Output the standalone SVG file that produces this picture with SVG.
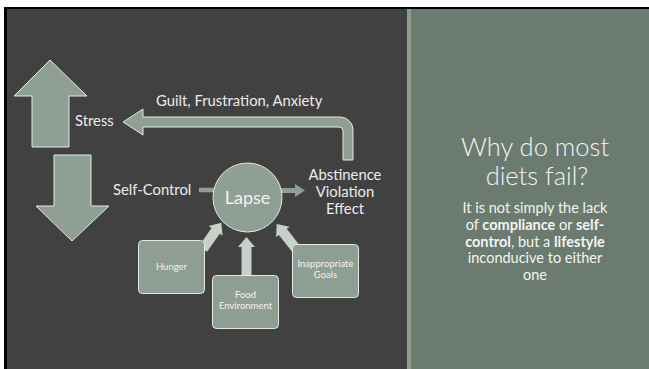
<svg xmlns="http://www.w3.org/2000/svg" width="649" height="369" viewBox="0 0 649 369">
<style>
.lbl{font-family:Lato,"Liberation Sans",sans-serif;fill:#ececec;font-size:14.8px}
.box{fill:#8e9e93;stroke:#e3e8e4;stroke-width:1}
.btxt{font-family:Lato,"Liberation Sans",sans-serif;fill:#f2f2f2;font-size:9.5px;text-anchor:middle}
.big{fill:#8f9f94;stroke:#e3e8e4;stroke-width:1}
.lt{fill:#c8d0ca}
.title{font-family:Lato,"Liberation Sans",sans-serif;font-weight:300;fill:#f4f4f4;font-size:25.5px;text-anchor:middle}
.body{font-family:Lato,"Liberation Sans",sans-serif;fill:#f4f4f4;font-size:14.5px;text-anchor:middle}
</style>
<rect x="0" y="0" width="649" height="369" fill="#ffffff"/>
<rect x="4" y="7" width="645" height="362" fill="#000000"/>
<rect x="7" y="9" width="400" height="360" fill="#414141"/>
<rect x="407" y="9" width="4" height="360" fill="#8d9e91"/>
<rect x="411" y="9" width="238" height="360" fill="#6b7b70"/>

<g id="connectors">
  <path id="guilt-arrow" class="big" d="M123,122 L143,109 L143,117 L340,117 A13,13 0 0 1 353,130 L353,160 L343,160 L343,131 A4,4 0 0 0 339,127 L143,127 L143,135 Z"/>
  <line x1="199" y1="190" x2="214" y2="190" stroke="#8f9f94" stroke-width="4.5"/>
  <polygon fill="#8f9f94" points="281,188 295,188 295,184 305,190.5 295,197 295,193 281,193"/>
  <polygon class="lt" transform="translate(203,249) rotate(-55)" points="0,-5 22,-5 22,-8.5 32,0 22,8.5 22,5 0,5"/>
  <polygon class="lt" transform="translate(246.5,277) rotate(-90)" points="0,-5 30,-5 30,-8.5 40,0 30,8.5 30,5 0,5"/>
  <polygon class="lt" transform="translate(297,250) rotate(-128)" points="0,-5 23,-5 23,-8.5 33,0 23,8.5 23,5 0,5"/>
</g>

<g id="stress-up">
  <polygon class="big" points="50,60 87,96 69,96 69,147 32,147 32,96 14,96"/>
</g>
<g id="stress-down">
  <polygon class="big" points="54,155 91,155 91,206 109,206 72,241 36,206 54,206"/>
</g>
<g id="stress-label">
  <text class="lbl" x="75" y="126">Stress</text>
</g>
<g id="guilt-label">
  <text class="lbl" x="156" y="106">Guilt, Frustration, Anxiety</text>
</g>
<g id="self-control">
  <text class="lbl" x="113" y="195">Self-Control</text>
</g>
<g id="lapse">
  <circle cx="247.5" cy="197.5" r="34.5" fill="#8f9f94" stroke="#e3e8e4" stroke-width="1"/>
  <text x="247.5" y="204" text-anchor="middle" style="font-family:Lato,'Liberation Sans',sans-serif;fill:#f2f2f2;font-size:18px">Lapse</text>
</g>
<g id="ave">
  <text class="lbl" text-anchor="middle" x="345" y="180">Abstinence</text>
  <text class="lbl" text-anchor="middle" x="345" y="197">Violation</text>
  <text class="lbl" text-anchor="middle" x="345" y="214">Effect</text>
</g>
<g id="hunger">
  <rect class="box" x="138.5" y="240.5" width="66" height="53" rx="4"/>
  <text class="btxt" x="171.5" y="270">Hunger</text>
</g>
<g id="food-environment">
  <rect class="box" x="212.5" y="275.5" width="66" height="53" rx="4"/>
  <text class="btxt" x="245.5" y="298">Food</text>
  <text class="btxt" x="245.5" y="309">Environment</text>
</g>
<g id="inappropriate-goals">
  <rect class="box" x="292.5" y="244.5" width="66" height="53" rx="4"/>
  <text class="btxt" x="325.5" y="267">Inappropriate</text>
  <text class="btxt" x="325.5" y="278">Goals</text>
</g>

<g id="title">
  <text class="title" x="535" y="155.5">Why do most</text>
  <text class="title" x="537" y="185">diets fail?</text>
</g>
<g id="body">
  <text class="body" x="535" y="213">It is not simply the lack</text>
  <text class="body" x="535" y="230">of <tspan font-weight="bold">compliance</tspan> or <tspan font-weight="bold">self-</tspan></text>
  <text class="body" x="535" y="246.5"><tspan font-weight="bold">control</tspan>, but a <tspan font-weight="bold">lifestyle</tspan></text>
  <text class="body" x="535" y="263">inconducive to either</text>
  <text class="body" x="535" y="279.5">one</text>
</g>
</svg>
